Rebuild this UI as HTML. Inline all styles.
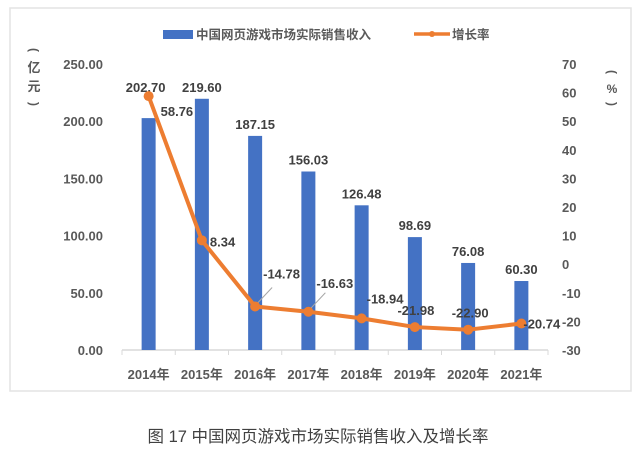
<!DOCTYPE html>
<html><head><meta charset="utf-8"><style>
body{margin:0;background:#fff;width:641px;height:454px;overflow:hidden;font-family:"Liberation Sans","Noto Sans CJK SC",sans-serif;}
</style></head><body>
<svg width="641" height="454" xmlns="http://www.w3.org/2000/svg" font-family="Liberation Sans, Noto Sans CJK SC, sans-serif">
<rect x="10" y="8" width="621" height="383" fill="#fff" stroke="#e3e3e3" stroke-width="1.5"/>
<g id="legend">
<rect x="163" y="30" width="30" height="9" fill="#4472c4"/>
<text x="196" y="39" font-size="12.5" font-weight="bold" fill="#595959">中国网页游戏市场实际销售收入</text>
<line x1="414" y1="34" x2="450" y2="34" stroke="#ed7d31" stroke-width="3.5"/>
<circle cx="432" cy="34" r="3" fill="#ed7d31"/>
<text x="452" y="39" font-size="12.5" font-weight="bold" fill="#595959">增长率</text>
</g>
<g font-size="13" font-weight="bold" fill="#595959">
<g>
<text transform="translate(30,50) rotate(90)" text-anchor="middle" font-size="12">(</text>
<text x="34" y="72" text-anchor="middle">亿</text>
<text x="34" y="91" text-anchor="middle">元</text>
<text transform="translate(30,104) rotate(90)" text-anchor="middle" font-size="12">)</text>
</g>
<g>
<text transform="translate(608,72) rotate(90)" text-anchor="middle" font-size="12">(</text>
<text x="612" y="93" text-anchor="middle" font-size="12">%</text>
<text transform="translate(608,104) rotate(90)" text-anchor="middle" font-size="12">)</text>
</g>
</g>
<g id="plot"></g>
<text x="318" y="442" text-anchor="middle" font-size="16.5" fill="#404040">图 17 中国网页游戏市场实际销售收入及增长率</text>
</svg>
<script>
const categories=["2014年","2015年","2016年","2017年","2018年","2019年","2020年","2021年"];
const revenue=[202.70,219.60,187.15,156.03,126.48,98.69,76.08,60.30];
const growth=[58.76,8.34,-14.78,-16.63,-18.94,-21.98,-22.90,-20.74];
const leftTicks=[0,50,100,150,200,250];
const rightTicks=[-30,-20,-10,0,10,20,30,40,50,60,70];
const NS="http://www.w3.org/2000/svg";
const g=document.getElementById('plot');
const x0=122,x1=548,yB=350,yT=64;
const band=(x1-x0)/categories.length;
const xc=i=>x0+band*(i+0.5);
const yL=v=>yB-(v/250)*(yB-yT);
const yR=v=>yB-((v+30)/100)*(yB-yT);
function mk(t,a){const e=document.createElementNS(NS,t);for(const k in a)e.setAttribute(k,a[k]);g.appendChild(e);return e;}
const ax=mk('line',{x1:x0,y1:yB,x2:x1,y2:yB,stroke:'#d9d9d9','stroke-width':1.5});


for(let i=0;i<=categories.length;i++){const t=mk('line',{x1:x0+band*i,y1:yB,x2:x0+band*i,y2:yB+5,stroke:'#d9d9d9'});

}
leftTicks.forEach(v=>{const t=mk('text',{x:103,y:yL(v)+5,'text-anchor':'end','font-size':13,'font-weight':'bold',fill:'#595959'});t.textContent=v.toFixed(2);

});
rightTicks.forEach(v=>{const t=mk('text',{x:562,y:yR(v)+5,'font-size':13,'font-weight':'bold',fill:'#595959'});t.textContent=v;

});
categories.forEach((c,i)=>{const t=mk('text',{x:xc(i),y:yB+29,'text-anchor':'middle','font-size':13,'font-weight':'bold',fill:'#595959'});t.textContent=c;

});
revenue.forEach((v,i)=>{const r=mk('rect',{x:xc(i)-7,y:yL(v),width:14,height:yB-yL(v),fill:'#4472c4'});


const dy=i===0?-26:-7;
const t=mk('text',{x:xc(i)-(i===0?3:0),y:yL(v)+dy,'text-anchor':'middle','font-size':13,'font-weight':'bold',fill:'#404040'});t.textContent=v.toFixed(2);

});
const pl=mk('polyline',{points:growth.map((v,i)=>xc(i)+','+yR(v)).join(' '),fill:'none',stroke:'#ed7d31','stroke-width':4,'stroke-linejoin':'round'});


const offs=[[12,20,'start'],[8,6,'start'],[8,-28,'start'],[8,-24,'start'],[5,-15,'start'],[1,-12,'middle'],[2,-12,'middle'],[2,5,'start']];
const leaders=[2,3];
growth.forEach((v,i)=>{
if(leaders.includes(i)){const l=mk('line',{x1:xc(i)+2,y1:yR(v)-3,x2:xc(i)+17,y2:yR(v)-19,stroke:'#a6a6a6','stroke-width':1});

}
const c=mk('circle',{cx:xc(i),cy:yR(v),r:5,fill:'#ed7d31'});


const t=mk('text',{x:xc(i)+offs[i][0],y:yR(v)+offs[i][1],'font-size':13,'font-weight':'bold',fill:'#404040','text-anchor':offs[i][2]});t.textContent=v.toFixed(2);

});
</script>
</body></html>
